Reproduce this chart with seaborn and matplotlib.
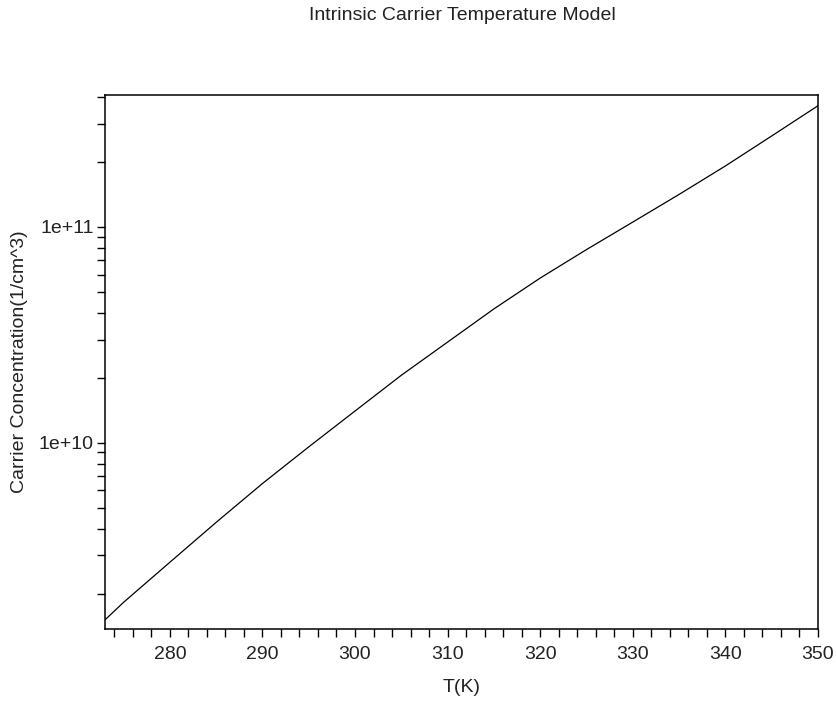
import numpy as np
import pandas as pd
import matplotlib
matplotlib.use("Agg")
import matplotlib.pyplot as plt
import seaborn as sns
from matplotlib.ticker import MultipleLocator, LogLocator, FuncFormatter, NullFormatter

temperature_K = [273, 275, 280, 285, 290, 295, 300, 305, 310, 315, 320,
                 325, 330, 335, 340, 345, 350]
carrier_conc = [1.51e9, 1.82e9, 2.79e9, 4.27e9, 6.46e9, 9.55e9, 1.40e10,
                2.05e10, 2.92e10, 4.16e10, 5.78e10, 7.83e10, 1.05e11,
                1.41e11, 1.91e11, 2.63e11, 3.63e11]

title_text = "Intrinsic Carrier Temperature Model"
x_label = "T(K)"
y_label = "Carrier Concentration(1/cm^3)"

sns.set_style("ticks")
plt.rcParams['font.family'] = ['Liberation Sans', 'DejaVu Sans']

df = pd.DataFrame({"T": temperature_K, "n": carrier_conc})

fig = plt.figure(figsize=(8.36, 7.04), dpi=100)
ax = fig.add_axes([105/836, 1-629/704, 713/836, 534/704])

sns.lineplot(data=df, x="T", y="n", ax=ax, color="black", linewidth=0.9)
ax.set_yscale("log")
ax.set_xlim(273, 350)
ax.set_ylim(1.37e9, 4.07e11)

ax.xaxis.set_major_locator(MultipleLocator(10))
ax.xaxis.set_minor_locator(MultipleLocator(2))
ax.yaxis.set_major_locator(LogLocator(base=10, numticks=10))
ax.yaxis.set_minor_locator(LogLocator(base=10, subs=np.arange(2, 10), numticks=20))
ax.yaxis.set_major_formatter(FuncFormatter(lambda v, p: "1e+%d" % round(np.log10(v))))
ax.yaxis.set_minor_formatter(NullFormatter())

for side in ["top", "right", "left", "bottom"]:
    ax.spines[side].set_visible(True)
    ax.spines[side].set_color("black")
    ax.spines[side].set_linewidth(1.1)

ax.tick_params(axis="both", which="both", direction="out", length=6,
               width=1.0, color="black", labelsize=14, labelcolor="#222222")
ax.tick_params(axis="x", which="both", pad=6.5)
ax.tick_params(axis="y", which="both", pad=2)
ax.tick_params(top=False, right=False, which="both")

ax.set_xlabel(x_label, fontsize=14, color="#222222")
ax.set_ylabel(y_label, fontsize=14, color="#222222")
ax.xaxis.set_label_coords(0.5, -0.094)
ax.yaxis.set_label_coords(-0.108, 0.5)

fig.text(462/836, 1-16/704, title_text, ha="center", va="center",
         fontsize=14, color="#222222")

fig.savefig("out.png", dpi=100, facecolor="white")
